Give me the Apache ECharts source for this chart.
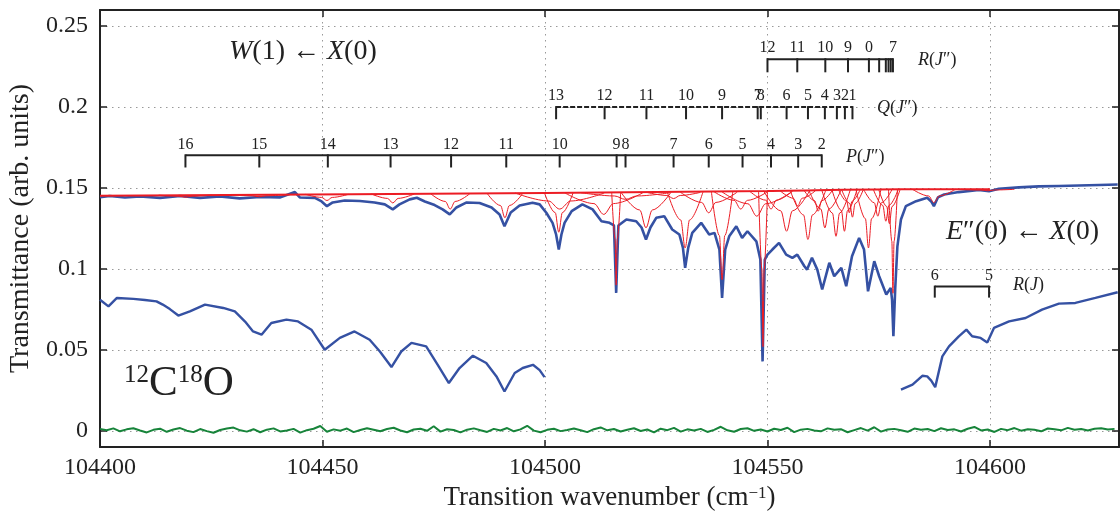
<!DOCTYPE html>
<html>
<head>
<meta charset="utf-8">
<script src="https://cdn.jsdelivr.net/npm/echarts@6/dist/echarts.min.js"></script>
<style>
  html, body { margin: 0; padding: 0; background: #fff; }
  #chart { width: 1120px; height: 512px; }
</style>
</head>
<body>
<div id="chart"></div>
<script>
// spectrum: [wavenumber (cm-1), transmittance]
const upperTrace = [
  [104400.0, 0.1444], [104402.2, 0.1451], [104405.6, 0.1442], [104409.0, 0.1448], [104413.5, 0.1439],
  [104418.0, 0.1451], [104422.5, 0.1439], [104426.9, 0.1448], [104431.4, 0.1436], [104435.9, 0.1445],
  [104440.4, 0.1442], [104443.8, 0.1475], [104444.9, 0.1442], [104448.3, 0.1439], [104449.8, 0.1417],
  [104451.0, 0.1388], [104452.3, 0.1411], [104455.0, 0.1423], [104458.4, 0.1420], [104461.7, 0.1411],
  [104464.0, 0.1399], [104465.8, 0.1368], [104467.3, 0.1399], [104469.6, 0.1430], [104471.2, 0.1440],
  [104473.0, 0.1417], [104475.2, 0.1395], [104477.0, 0.1368], [104478.6, 0.1337], [104480.1, 0.1380],
  [104482.4, 0.1411], [104485.3, 0.1408], [104488.0, 0.1380], [104489.8, 0.1337], [104490.9, 0.1264],
  [104492.3, 0.1349], [104494.3, 0.1392], [104497.2, 0.1409], [104498.8, 0.1399], [104500.3, 0.1347],
  [104501.7, 0.1285], [104502.5, 0.1213], [104503.1, 0.1120], [104503.7, 0.1213], [104504.4, 0.1285],
  [104506.0, 0.1357], [104508.4, 0.1399], [104510.7, 0.1368], [104512.7, 0.1295], [104514.5, 0.1285],
  [104515.5, 0.1269], [104516.0, 0.0852], [104516.5, 0.1269], [104518.3, 0.1306], [104520.5, 0.1295],
  [104521.7, 0.1256], [104522.7, 0.1182], [104523.7, 0.1256], [104525.0, 0.1316], [104526.8, 0.1326],
  [104528.6, 0.1244], [104530.2, 0.1213], [104531.0, 0.1132], [104531.5, 0.1007], [104532.2, 0.1132],
  [104533.1, 0.1223], [104535.1, 0.1285], [104536.9, 0.1213], [104538.1, 0.1223], [104539.2, 0.1120],
  [104539.8, 0.0821], [104540.5, 0.1120], [104541.4, 0.1202], [104543.0, 0.1264], [104544.3, 0.1192],
  [104545.5, 0.1233], [104547.5, 0.1171], [104548.4, 0.1058], [104548.9, 0.0429], [104549.4, 0.1058],
  [104550.0, 0.1089], [104551.1, 0.1120], [104552.6, 0.1161], [104554.2, 0.1089], [104555.6, 0.1069],
  [104556.7, 0.1089], [104558.3, 0.1017], [104558.9, 0.0996], [104560.0, 0.1069], [104561.2, 0.0996],
  [104562.3, 0.0873], [104563.9, 0.1038], [104565.0, 0.0955], [104566.6, 0.1007], [104567.7, 0.0893],
  [104569.0, 0.1079], [104570.6, 0.1192], [104571.7, 0.1120], [104572.6, 0.0862], [104574.0, 0.1048],
  [104575.1, 0.0955], [104576.7, 0.0842], [104577.7, 0.0883], [104578.0, 0.0810], [104578.3, 0.0584],
  [104578.7, 0.0873], [104579.2, 0.1140], [104580.0, 0.1306], [104581.1, 0.1388], [104583.4, 0.1419],
  [104585.9, 0.1440], [104586.8, 0.1417], [104587.4, 0.1388], [104588.3, 0.1442], [104589.7, 0.1460],
  [104593.0, 0.1475], [104597.5, 0.1488], [104599.8, 0.1480], [104602.0, 0.1496], [104606.5, 0.1504],
  [104611.0, 0.1510], [104615.5, 0.1513], [104620.0, 0.1516], [104624.5, 0.1519], [104628.7, 0.1522]
];

const lowerTraceLeft = [
  [104400.0, 0.0810], [104401.9, 0.0769], [104403.8, 0.0821], [104407.5, 0.0815], [104410.1, 0.0808],
  [104412.7, 0.0800], [104414.1, 0.0780], [104415.7, 0.0752], [104417.6, 0.0712], [104420.2, 0.0738],
  [104423.6, 0.0780], [104427.7, 0.0759], [104430.3, 0.0738], [104432.6, 0.0675], [104434.4, 0.0614],
  [104436.3, 0.0594], [104438.5, 0.0666], [104441.9, 0.0687], [104444.5, 0.0676], [104447.5, 0.0625],
  [104450.5, 0.0501], [104453.9, 0.0574], [104457.2, 0.0614], [104460.6, 0.0563], [104462.9, 0.0490],
  [104465.5, 0.0394], [104467.7, 0.0490], [104470.0, 0.0543], [104473.3, 0.0522], [104475.9, 0.0408],
  [104478.4, 0.0295], [104480.8, 0.0388], [104483.8, 0.0464], [104486.8, 0.0419], [104489.1, 0.0336],
  [104490.9, 0.0243], [104493.2, 0.0357], [104495.0, 0.0388], [104497.3, 0.0408], [104498.8, 0.0375],
  [104499.9, 0.0332]
];

const lowerTraceRight = [
  [104580.0, 0.0254], [104582.6, 0.0285], [104584.8, 0.0340], [104585.9, 0.0336], [104586.8, 0.0310],
  [104587.7, 0.0270], [104589.3, 0.0460], [104590.8, 0.0522], [104593.0, 0.0584], [104594.7, 0.0625],
  [104596.0, 0.0584], [104597.9, 0.0574], [104599.4, 0.0546], [104600.9, 0.0636], [104604.3, 0.0676],
  [104608.0, 0.0697], [104611.7, 0.0749], [104615.5, 0.0786], [104619.2, 0.0790], [104623.7, 0.0821],
  [104628.7, 0.0856]
];

// residual of the fit, sampled every 1.5 cm-1 from 104400
const residualStart = 104400;
const residualStep = 1.5;
const residual = [
  0.0012, 0.0004, 0.0015, -0.0003, 0.0009, 0.0016, 0.0002, -0.0010, 0.0006, 0.0013,
  -0.0006, 0.0008, 0.0017, 0.0001, -0.0008, 0.0011, -0.0002, -0.0012, 0.0005, 0.0014,
  0.0020, 0.0003, -0.0005, 0.0010, -0.0009, 0.0007, 0.0015, -0.0004, 0.0002, 0.0012,
  -0.0011, 0.0004, 0.0013, 0.0030, -0.0006, 0.0009, 0.0001, 0.0014, -0.0008, 0.0005,
  0.0016, 0.0007, -0.0003, 0.0011, 0.0019, 0.0002, -0.0009, 0.0008, 0.0013, 0.0000,
  0.0028, -0.0005, 0.0010, 0.0005, -0.0010, 0.0007, 0.0015, 0.0003, -0.0007, 0.0012,
  0.0002, 0.0017, -0.0003, 0.0009, 0.0031, 0.0001, -0.0009, 0.0006, 0.0013, -0.0002,
  0.0005, 0.0014, 0.0004, -0.0008, 0.0010, 0.0021, 0.0003, 0.0011, -0.0004, 0.0007,
  0.0016, -0.0001, 0.0008, -0.0010, 0.0013, 0.0004, 0.0018, -0.0005, 0.0009, 0.0002,
  0.0012, -0.0007, 0.0006, 0.0025, 0.0003, -0.0006, 0.0011, 0.0016, 0.0000, 0.0008,
  -0.0004, 0.0013, 0.0005, 0.0019, -0.0008, 0.0007, 0.0012, 0.0002, -0.0003, 0.0015,
  0.0006, 0.0010, -0.0009, 0.0004, 0.0017, 0.0001, 0.0022, -0.0005, 0.0008, 0.0012,
  0.0003, -0.0006, 0.0014, 0.0007, 0.0011, -0.0002, 0.0016, 0.0005, 0.0009, -0.0004,
  0.0013, 0.0024, 0.0002, 0.0008, -0.0007, 0.0012, 0.0004, 0.0017, 0.0001, 0.0010,
  0.0006, -0.0003, 0.0014, 0.0009, 0.0003, 0.0018, 0.0007, 0.0011, 0.0002, 0.0013,
  0.0016, 0.0008, 0.0012
];

// fitted line profiles (red), each as points
const fitBaseline = [[104400, 0.1452], [104500, 0.1469], [104550, 0.1482], [104580, 0.1492], [104600, 0.1492]];
const fitProfiles = [
  [[104413.2, 0.1456], [104417.7, 0.1450], [104419.2, 0.1443], [104420.7, 0.1450], [104425.2, 0.1456]],
  [[104429.8, 0.1458], [104434.3, 0.1452], [104435.8, 0.1446], [104437.3, 0.1452], [104441.8, 0.1458]],
  [[104446.2, 0.1461], [104449.8, 0.1442], [104451.0, 0.1423], [104452.2, 0.1442], [104455.8, 0.1461]],
  [[104461.0, 0.1463], [104464.6, 0.1436], [104465.8, 0.1408], [104467.0, 0.1436], [104470.6, 0.1463]],
  [[104474.3, 0.1465], [104477.6, 0.1417], [104478.7, 0.1370], [104479.8, 0.1417], [104483.1, 0.1465]],
  [[104487.0, 0.1467], [104490.0, 0.1392], [104491.0, 0.1316], [104492.0, 0.1392], [104495.0, 0.1467]],
  [[104499.9, 0.1469], [104502.3, 0.1348], [104503.1, 0.1227], [104503.9, 0.1348], [104506.3, 0.1469]],
  [[104493.3, 0.1469], [104500.8, 0.1420], [104503.3, 0.1370], [104505.8, 0.1420], [104513.3, 0.1469]],
  [[104504.4, 0.1471], [104511.0, 0.1404], [104513.2, 0.1337], [104515.4, 0.1404], [104522.0, 0.1471]],
  [[104515.0, 0.1471], [104515.75, 0.1186], [104516.0, 0.0900], [104516.25, 0.1186], [104517.0, 0.1471]],
  [[104508.1, 0.1471], [104515.6, 0.1451], [104518.1, 0.1430], [104520.6, 0.1451], [104528.1, 0.1471]],
  [[104517.1, 0.1473], [104521.3, 0.1364], [104522.7, 0.1254], [104524.1, 0.1364], [104528.3, 0.1473]],
  [[104522.9, 0.1473], [104527.4, 0.1454], [104528.9, 0.1435], [104530.4, 0.1454], [104534.9, 0.1473]],
  [[104527.5, 0.1475], [104530.5, 0.1303], [104531.5, 0.1130], [104532.5, 0.1303], [104535.5, 0.1475]],
  [[104530.4, 0.1475], [104535.2, 0.1411], [104536.8, 0.1347], [104538.4, 0.1411], [104543.2, 0.1475]],
  [[104537.4, 0.1477], [104539.2, 0.1206], [104539.8, 0.0934], [104540.4, 0.1206], [104542.2, 0.1477]],
  [[104538.0, 0.1477], [104542.5, 0.1424], [104544.0, 0.1370], [104545.5, 0.1424], [104550.0, 0.1477]],
  [[104539.6, 0.1480], [104545.6, 0.1403], [104547.6, 0.1326], [104549.6, 0.1403], [104555.6, 0.1480]],
  [[104548.0, 0.1480], [104548.75, 0.1000], [104549.0, 0.0520], [104549.25, 0.1000], [104550.0, 0.1480]],
  [[104546.0, 0.1480], [104549.6, 0.1425], [104550.8, 0.1370], [104552.0, 0.1425], [104555.6, 0.1480]],
  [[104549.1, 0.1484], [104553.0, 0.1359], [104554.3, 0.1233], [104555.6, 0.1359], [104559.5, 0.1484]],
  [[104552.8, 0.1484], [104555.8, 0.1437], [104556.8, 0.1390], [104557.8, 0.1437], [104560.8, 0.1484]],
  [[104555.1, 0.1486], [104558.1, 0.1334], [104559.1, 0.1182], [104560.1, 0.1334], [104563.1, 0.1486]],
  [[104558.2, 0.1486], [104560.6, 0.1422], [104561.4, 0.1357], [104562.2, 0.1422], [104564.6, 0.1486]],
  [[104559.3, 0.1486], [104562.0, 0.1370], [104562.9, 0.1254], [104563.8, 0.1370], [104566.5, 0.1486]],
  [[104562.2, 0.1488], [104564.6, 0.1345], [104565.4, 0.1202], [104566.2, 0.1345], [104568.6, 0.1488]],
  [[104564.5, 0.1488], [104566.6, 0.1361], [104567.3, 0.1233], [104568.0, 0.1361], [104570.1, 0.1488]],
  [[104566.0, 0.1488], [104567.8, 0.1418], [104568.4, 0.1347], [104569.0, 0.1418], [104570.8, 0.1488]],
  [[104566.7, 0.1488], [104568.5, 0.1404], [104569.1, 0.1320], [104569.7, 0.1404], [104571.5, 0.1488]],
  [[104569.9, 0.1491], [104572.0, 0.1311], [104572.7, 0.1130], [104573.4, 0.1311], [104575.5, 0.1491]],
  [[104571.6, 0.1491], [104574.0, 0.1409], [104574.8, 0.1326], [104575.6, 0.1409], [104578.0, 0.1491]],
  [[104573.8, 0.1491], [104575.9, 0.1393], [104576.6, 0.1295], [104577.3, 0.1393], [104579.4, 0.1491]],
  [[104575.0, 0.1491], [104576.8, 0.1386], [104577.4, 0.1280], [104578.0, 0.1386], [104579.8, 0.1491]],
  [[104577.2, 0.1491], [104577.95, 0.1171], [104578.2, 0.0850], [104578.45, 0.1171], [104579.2, 0.1491]],
  [[104582.6, 0.1492], [104586.2, 0.1451], [104587.4, 0.1410], [104588.6, 0.1451], [104592.2, 0.1492]],
  [[104593.5, 0.1492], [104598.0, 0.1488], [104599.5, 0.1483], [104601.0, 0.1488], [104605.5, 0.1492]]
];

// line assignments
const pPos = [104419.2, 104435.8, 104451.2, 104465.3, 104478.9, 104491.3, 104503.3, 104516.1, 104518.1,
              104528.9, 104536.8, 104544.4, 104550.8, 104556.9, 104562.2];
const pLab = ['16', '15', '14', '13', '12', '11', '10', '9', '8', '7', '6', '5', '4', '3', '2'];
const qPos = [104502.5, 104513.4, 104522.8, 104531.7, 104539.8, 104547.8, 104548.5, 104554.3, 104559.1,
              104562.9, 104565.6, 104567.4, 104569.1];
const qLab = ['13', '12', '11', '10', '9', '7', '8', '6', '5', '4', '3', '2', '1'];
const rPos = [104550.0, 104556.7, 104563.0, 104568.1, 104572.8, 104575.1, 104576.6, 104577.2, 104577.7, 104578.2];
const rLab = ['12', '11', '10', '9', '0', '', '', '', '', '7'];
const eRPos = [104587.6, 104599.8];
const eRLab = ['6', '5'];

const SERIF = '"Liberation Serif", "DejaVu Serif", serif';
const INK = '#222';
const BLUE = '#3551a3';
const RED = '#ec1c24';
const GREEN = '#17843a';

function bracketTicks(pos, labels, level, drop) {
  return {
    type: 'custom',
    silent: true,
    z: 6,
    data: pos.map((p, i) => [p, i]),
    renderItem: function (params, api) {
      const x = api.value(0);
      const lab = labels[api.value(1)];
      const a = api.coord([x, level]);
      const b = api.coord([x, drop]);
      const children = [{
        type: 'line',
        shape: { x1: a[0], y1: a[1] - 1, x2: b[0], y2: b[1] },
        style: { stroke: INK, lineWidth: 2 }
      }];
      if (lab) {
        children.push({
          type: 'text',
          style: {
            text: lab, x: a[0], y: a[1] - 3, align: 'center', verticalAlign: 'bottom',
            fontSize: 16, fontFamily: SERIF, fill: INK
          }
        });
      }
      return { type: 'group', children: children };
    }
  };
}

function bracketBar(pos, level, dashed) {
  return {
    type: 'line',
    silent: true,
    z: 6,
    symbol: 'none',
    data: [[pos[0], level], [pos[pos.length - 1], level]],
    lineStyle: { color: INK, width: 2, type: dashed ? [5, 2] : 'solid' }
  };
}

const residualData = residual.map((v, i) => [residualStart + i * residualStep, v]);

const series = [
  { type: 'line', data: residualData, symbol: 'none', lineStyle: { color: GREEN, width: 2 }, z: 3 },
  { type: 'line', data: lowerTraceLeft, symbol: 'none', lineStyle: { color: BLUE, width: 2.4 }, z: 3 },
  { type: 'line', data: lowerTraceRight, symbol: 'none', lineStyle: { color: BLUE, width: 2.4 }, z: 3 },
  { type: 'line', data: upperTrace, symbol: 'none', lineStyle: { color: BLUE, width: 2.6 }, z: 3 },
  { type: 'line', data: fitBaseline, symbol: 'none', smooth: 0.3, lineStyle: { color: RED, width: 2 }, z: 4 }
];
fitProfiles.forEach(function (pr) {
  series.push({
    type: 'line', data: pr, symbol: 'none', smooth: 0.35, smoothMonotone: 'x',
    lineStyle: { color: RED, width: 1 }, z: 4
  });
});
series.push(bracketBar(pPos, 0.1702, false), bracketTicks(pPos, pLab, 0.1702, 0.1627));
series.push(bracketBar(qPos, 0.2000, true), bracketTicks(qPos, qLab, 0.2000, 0.1925));
series.push(bracketBar(rPos, 0.2296, false), bracketTicks(rPos, rLab, 0.2296, 0.2215));
series.push(bracketBar(eRPos, 0.0891, false), bracketTicks(eRPos, eRLab, 0.0891, 0.0823));

const gridLine = { show: true, lineStyle: { color: '#999', width: 1, type: [1.5, 4.5] } };
const ital = { fontStyle: 'italic', fontFamily: SERIF };
const frameTick = { inside: true, length: 7, lineStyle: { color: INK, width: 1.5 } };
const frameLine = { onZero: false, lineStyle: { color: INK, width: 2 } };

const option = {
  animation: false,
  backgroundColor: '#fff',
  grid: { left: 100, right: 1, top: 10, bottom: 65, outerBoundsMode: 'none' },
  xAxis: [
    {
      type: 'value', min: 104400, max: 104629, interval: 50,
      axisLine: frameLine,
      axisTick: frameTick,
      axisLabel: {
        color: INK, fontSize: 24, fontFamily: SERIF, margin: 9, showMaxLabel: false,
        formatter: (v) => String(v)
      },
      splitLine: gridLine,
      name: 'Transition wavenumber (cm{sup|−1})',
      nameLocation: 'middle', nameGap: 37,
      nameTextStyle: {
        color: INK, fontSize: 27, fontFamily: SERIF,
        rich: { sup: { fontSize: 17, fontFamily: SERIF, verticalAlign: 'top', color: INK } }
      }
    },
    {
      type: 'value', position: 'top', min: 104400, max: 104629, interval: 50,
      axisLine: frameLine,
      axisTick: frameTick,
      axisLabel: { show: false }, splitLine: { show: false }
    }
  ],
  yAxis: [
    {
      type: 'value', min: -0.01, max: 0.26, splitNumber: 5,
      axisLine: frameLine,
      axisTick: frameTick,
      axisLabel: { color: INK, fontSize: 24, fontFamily: SERIF, margin: 12, showMinLabel: false, showMaxLabel: false },
      splitLine: gridLine,
      name: 'Transmittance (arb. units)',
      nameLocation: 'middle', nameGap: 60,
      nameTextStyle: { color: INK, fontSize: 28, fontFamily: SERIF }
    },
    {
      type: 'value', position: 'right', min: -0.01, max: 0.26, splitNumber: 5,
      axisLine: frameLine,
      axisTick: frameTick,
      axisLabel: { show: false }, splitLine: { show: false }
    }
  ],
  series: series,
  graphic: [
    {
      type: 'text', x: 229, y: 52, z: 10,
      style: {
        text: '{i|W}(1) ← {i|X}(0)', verticalAlign: 'middle', fill: INK,
        fontSize: 28, fontFamily: SERIF,
        rich: { i: Object.assign({ fontSize: 28 }, ital) }
      }
    },
    {
      type: 'text', x: 946, y: 232, z: 10,
      style: {
        text: '{i|E}″(0) ← {i|X}(0)', verticalAlign: 'middle', fill: INK,
        fontSize: 28, fontFamily: SERIF,
        rich: { i: Object.assign({ fontSize: 28 }, ital) }
      }
    },
    {
      type: 'text', x: 124, y: 384, z: 10,
      style: {
        text: '{s|12}C{s|18}O', verticalAlign: 'middle', fill: INK,
        fontSize: 43, fontFamily: SERIF,
        rich: { s: { fontSize: 25, fontFamily: SERIF, verticalAlign: 'top' } }
      }
    },
    {
      type: 'text', x: 918, y: 60, z: 10,
      style: { text: '{i|R}({i|J}″)', verticalAlign: 'middle', fill: INK, fontSize: 18, fontFamily: SERIF,
               rich: { i: Object.assign({ fontSize: 18 }, ital) } }
    },
    {
      type: 'text', x: 877, y: 108, z: 10,
      style: { text: '{i|Q}({i|J}″)', verticalAlign: 'middle', fill: INK, fontSize: 18, fontFamily: SERIF,
               rich: { i: Object.assign({ fontSize: 18 }, ital) } }
    },
    {
      type: 'text', x: 846, y: 157, z: 10,
      style: { text: '{i|P}({i|J}″)', verticalAlign: 'middle', fill: INK, fontSize: 18, fontFamily: SERIF,
               rich: { i: Object.assign({ fontSize: 18 }, ital) } }
    },
    {
      type: 'text', x: 1013, y: 285, z: 10,
      style: { text: '{i|R}({i|J})', verticalAlign: 'middle', fill: INK, fontSize: 18, fontFamily: SERIF,
               rich: { i: Object.assign({ fontSize: 18 }, ital) } }
    }
  ]
};

const myChart = echarts.init(document.getElementById('chart'));
myChart.setOption(option);
window.addEventListener('resize', () => {
  myChart.resize();
});
</script>
</body>
</html>
